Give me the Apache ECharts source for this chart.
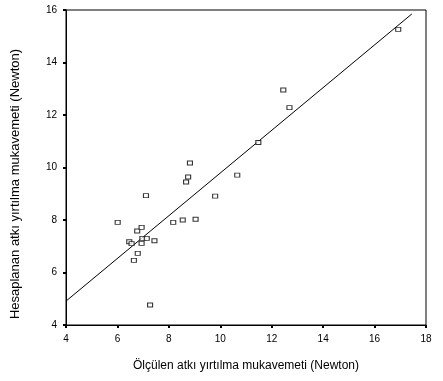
<!DOCTYPE html>
<html><head><meta charset="utf-8">
<script src="https://cdn.jsdelivr.net/npm/echarts@6/dist/echarts.min.js"></script>
<style>html,body{margin:0;padding:0;background:#fff}#c{width:443px;height:381px}</style>
</head><body><div id="c"></div>
<script>
const measured = [6.01,7.11,6.77,6.94,6.46,6.55,6.79,6.64,6.94,6.97,7.14,7.44,7.27,8.17,8.54,9.04,9.80,10.66,8.82,8.75,8.67,12.45,12.69,11.48,16.92];
const calculated = [7.91,8.93,7.58,7.72,7.17,7.10,6.73,6.46,7.11,7.30,7.30,7.21,4.76,7.91,8.00,8.03,8.91,9.71,10.17,9.64,9.45,12.95,12.28,10.95,15.26];
const fitX = [4, 17.45];
const fitY = [4.91, 15.85];
const xTicks = [4,6,8,10,12,14,16,18];
const yTicks = [4,6,8,10,12,14,16];
const xTitle = 'Ölçülen atkı yırtılma mukavemeti (Newton)';
const yTitle = 'Hesaplanan atkı yırtılma mukavemeti (Newton)';

const pts = measured.map((x,i)=>[x, calculated[i]]);
const line = fitX.map((x,i)=>[x, fitY[i]]);
const chart = echarts.init(document.getElementById('c'), null, {renderer:'canvas'});
const font = 'Liberation Sans, Arial';
const axisCommon = {
  axisLine:{show:true,lineStyle:{color:'#000',width:1}},
  axisTick:{show:true,length:3,lineStyle:{color:'#000',width:2}},
  splitLine:{show:false}
};
chart.setOption({
  animation:false,
  backgroundColor:'#fff',
  grid:{left:66,right:17,top:10,bottom:56,show:true,borderColor:'#000',borderWidth:1},
  xAxis:Object.assign({type:'value',min:xTicks[0],max:xTicks[xTicks.length-1],interval:2,
    name:xTitle,nameLocation:'middle',nameGap:35,
    nameTextStyle:{color:'#000',fontFamily:font,fontSize:12},
    axisLabel:{color:'#000',fontFamily:font,fontSize:10,margin:9}},axisCommon),
  yAxis:Object.assign({type:'value',min:yTicks[0],max:yTicks[yTicks.length-1],interval:2,
    axisLabel:{color:'#000',fontFamily:font,fontSize:10,margin:9}},axisCommon),
  graphic:[{type:'text',x:15,y:184,rotation:Math.PI/2,
    style:{text:yTitle,fill:'#000',font:'13px Liberation Sans, Arial',align:'center',verticalAlign:'middle'}}],
  series:[
    {type:'line',data:line,symbol:'none',lineStyle:{color:'#000',width:1},silent:true,z:1},
    {type:'scatter',data:pts,symbol:'rect',symbolSize:[5,4],
      itemStyle:{color:'#fff',borderColor:'#000',borderWidth:1},z:2}
  ]
});
</script></body></html>
